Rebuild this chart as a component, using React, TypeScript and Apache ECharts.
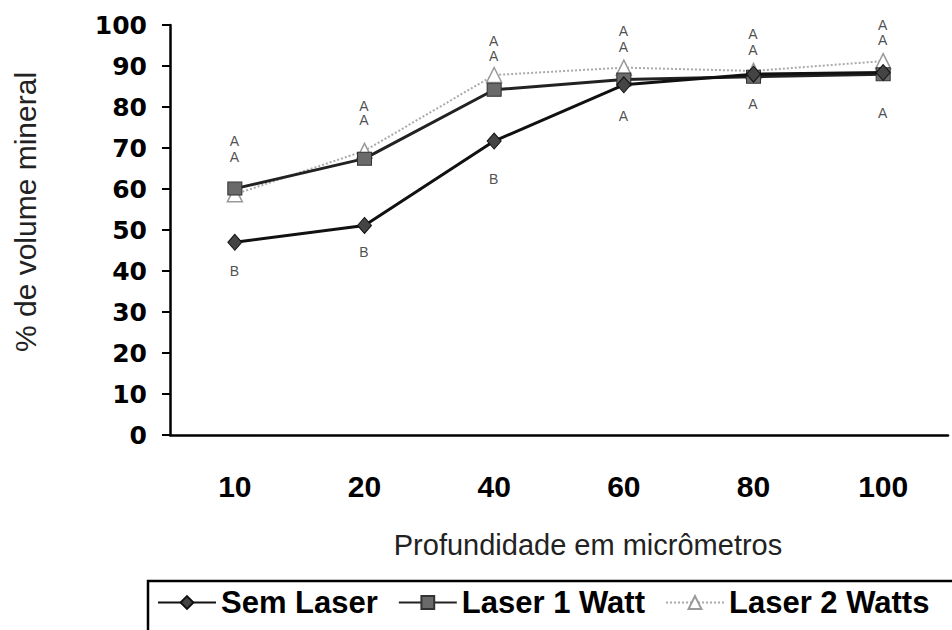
import React, { useEffect, useRef } from "react";
import * as echarts from "echarts";

const categories = ["10", "20", "40", "60", "80", "100"];
const semLaser = [47.0, 51.1, 71.7, 85.4, 88.0, 88.4];
const laser1W = [60.1, 67.4, 84.2, 86.7, 87.4, 88.0];
const laser2W = [58.7, 69.3, 87.8, 89.6, 88.8, 91.2];

const lettersSem = ["B", "B", "B", "A", "A", "A"];
const lettersSemPos = [40.0, 44.6, 62.2, 77.6, 80.5, 78.5];
const letters1W = ["A", "A", "A", "A", "A", "A"];
const letters1WPos = [67.8, 76.6, 92.2, 94.6, 93.9, 96.3];
const letters2W = ["A", "A", "A", "A", "A", "A"];
const letters2WPos = [71.5, 80.2, 95.9, 98.3, 97.8, 100];

const yTicks = { min: 0, max: 100, interval: 10 };

function letterSeries(pos: number[], txt: string[]) {
  return {
    type: "scatter",
    symbolSize: 1,
    silent: true,
    clip: false,
    legendHoverLink: false,
    itemStyle: { color: "rgba(0,0,0,0)" },
    data: pos.map((v, i) => ({ value: [categories[i], v], name: txt[i] })),
    label: {
      show: true,
      position: [0, 0],
      align: "center",
      verticalAlign: "middle",
      formatter: (p: any) => p.name,
      fontFamily: "Liberation Sans",
      fontSize: 14,
      color: "#222",
      textBorderWidth: 0,
    },
    z: 5,
  };
}

export default function App() {
  const ref = useRef<HTMLDivElement>(null);
  useEffect(() => {
    if (!ref.current) return;
    const chart = echarts.init(ref.current, null, { renderer: "svg" });
    chart.setOption({
      animation: false,
      backgroundColor: "#fff",
      grid: { left: 170, right: 4, top: 25, bottom: 195 },
      xAxis: {
        type: "category",
        data: categories,
        boundaryGap: true,
        axisLine: { lineStyle: { color: "#000", width: 2.5 } },
        axisTick: { length: 12, lineStyle: { color: "#000", width: 2 } },
        axisLabel: {
          margin: 36,
          color: "#000",
          fontFamily: "Liberation Sans",
          fontWeight: "bold",
          fontSize: 30,
          lineHeight: 30,
        },
        splitLine: { show: false },
      },
      yAxis: {
        type: "value",
        min: yTicks.min,
        max: yTicks.max,
        interval: yTicks.interval,
        axisLine: { show: true, lineStyle: { color: "#000", width: 2.5 } },
        axisTick: { show: true, length: 8, lineStyle: { color: "#000", width: 2 } },
        axisLabel: {
          margin: 23,
          color: "#000",
          fontFamily: "DejaVu Sans",
          fontWeight: "bold",
          fontSize: 25,
        },
        splitLine: { show: false },
      },
      legend: {
        left: 157,
        top: 587,
        padding: 0,
        itemWidth: 58,
        itemHeight: 16,
        itemGap: 20,
        textStyle: {
          fontFamily: "Liberation Sans",
          fontWeight: "bold",
          fontSize: 31,
          color: "#000",
        },
        data: ["Sem Laser", "Laser 1 Watt", "Laser 2 Watts"],
      },
      graphic: [
        {
          type: "rect",
          shape: { x: 148, y: 581, width: 900, height: 100 },
          style: { fill: "none", stroke: "#000", lineWidth: 2.5 },
          silent: true,
        },
        {
          type: "text",
          x: 25,
          y: 212,
          rotation: Math.PI / 2,
          style: {
            text: "% de volume mineral",
            fontFamily: "Liberation Sans",
            fontSize: 30,
            fill: "#222",
            textAlign: "center",
            textVerticalAlign: "middle",
          },
        },
        {
          type: "text",
          x: 588,
          y: 545,
          style: {
            text: "Profundidade em micrômetros",
            fontFamily: "Liberation Sans",
            fontSize: 29,
            fill: "#222",
            textAlign: "center",
            textVerticalAlign: "middle",
          },
        },
      ],
      series: [
        {
          name: "Laser 2 Watts",
          type: "line",
          data: laser2W,
          symbol: "triangle",
          symbolSize: 15,
          itemStyle: { color: "#fff", borderColor: "#999", borderWidth: 1.5 },
          lineStyle: { color: "#aaa", width: 2, type: "dotted" },
          z: 2,
        },
        {
          name: "Laser 1 Watt",
          type: "line",
          data: laser1W,
          symbol: "rect",
          symbolSize: [14, 13],
          itemStyle: { color: "#6a6a6a", borderColor: "#333", borderWidth: 1 },
          lineStyle: { color: "#222", width: 3 },
          z: 3,
        },
        {
          name: "Sem Laser",
          type: "line",
          data: semLaser,
          symbol: "diamond",
          symbolSize: [14, 16],
          itemStyle: { color: "#444", borderColor: "#111", borderWidth: 1 },
          lineStyle: { color: "#111", width: 3 },
          z: 4,
        },
        letterSeries(lettersSemPos, lettersSem),
        letterSeries(letters1WPos, letters1W),
        letterSeries(letters2WPos, letters2W),
      ],
    });
    return () => chart.dispose();
  }, []);
  return (
    <div
      ref={ref}
      style={{ position: "fixed", left: 0, top: 0, width: 952, height: 630 }}
    />
  );
}
